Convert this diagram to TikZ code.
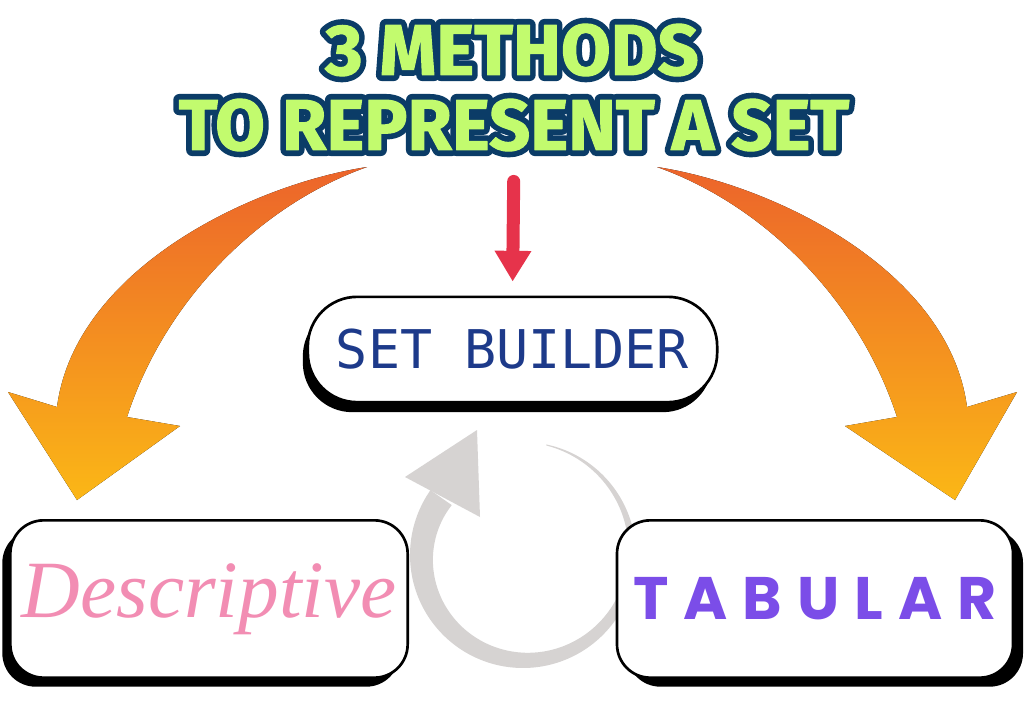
\documentclass[tikz,border=0pt]{standalone}
\usepackage{fontspec}
\usetikzlibrary{arrows.meta,shadows}

\newfontfamily\titlefont{Fira Sans}[FakeBold=1.5]
\newfontfamily\rimfont{Fira Sans}[FakeBold=17]
\newfontfamily\pixfont{DejaVu Sans Mono}
\newfontfamily\descfont{Liberation Serif}
\newfontfamily\tabfont{Poppins}[LetterSpace=25]

\definecolor{titlegreen}{HTML}{C2FB6E}
\definecolor{titlenavy}{HTML}{0B3C67}
\definecolor{arrowred}{HTML}{E6334B}
\definecolor{sbnavy}{HTML}{1D3A8A}
\definecolor{descpink}{HTML}{F28DB3}
\definecolor{tabpurple}{HTML}{7B4DE8}
\definecolor{loopgray}{HTML}{D6D3D2}
\definecolor{arroworange}{HTML}{EC642B}
\definecolor{arrowyellow}{HTML}{FBB716}

% green letters on a thick navy rim
\newcommand\rimtext[1]{%
    \rlap{\special{pdf:literal direct 1 j 1 J}\rimfont\bfseries\color{titlenavy}#1}%
    {\color{titlegreen}#1}}

\tikzset{
    titletext/.style={inner sep=0pt, font=\titlefont\bfseries\fontsize{54}{60}\selectfont},
    methodbox/.style={draw=black, line width=2pt, fill=white, inner sep=0pt},
    bigarrow/.style={top color=arroworange, bottom color=arrowyellow, draw=none},
    redarrow/.style={arrowred, line width=9.75pt, line cap=round, -{Triangle[width=26pt, length=23pt]}},
}

\begin{document}
\begin{tikzpicture}[x=0.75pt, y=-0.75pt]
    \useasboundingbox[fill=white] (0,0) rectangle (1024,711);

    % orange arrows to the two side boxes
    \fill[bigarrow] (367,167) .. controls (250,185) and (75,270) .. (57,407)
        -- (8,392) -- (77,500) -- (180,426) -- (127,417)
        .. controls (165,300) and (260,205) .. (367,167) -- cycle;
    \fill[bigarrow] (657,167) .. controls (774,185) and (949,270) .. (967,407)
        -- (1017,392) -- (955,500) -- (845,426) -- (897,417)
        .. controls (859,300) and (764,205) .. (657,167) -- cycle;

    % gray loop arrow
    \fill[loopgray] plot[domain=78:-215, samples=80, smooth] ({523+113*cos(\x)}, {555-113*sin(\x)})
        -- plot[domain=-215:78, samples=80, smooth] ({523+(112-25*(78-\x)/293)*cos(\x)}, {555-(112-25*(78-\x)/293)*sin(\x)}) -- cycle;
    \fill[loopgray] (405,477) -- (477,430) -- (480,517) -- cycle;

    % title
    \node[titletext] (title1) at (512,50) {\rimtext{3 METHODS}};
    \node[titletext] (title2) at (514,125) {\rimtext{TO REPRESENT A SET}};

    % boxes
    \node[methodbox, rounded corners=37pt, minimum width=307pt, minimum height=79pt,
        drop shadow={shadow xshift=-3.75pt, shadow yshift=-7.5pt, fill=black, opacity=1}]
        (setbuilder) at (512.5,349.5) {\pixfont\fontsize{40}{44}\selectfont\color{sbnavy}SET BUILDER};
    \node[methodbox, rounded corners=25pt, minimum width=298pt, minimum height=118pt,
        drop shadow={shadow xshift=-6pt, shadow yshift=-6.75pt, fill=black, opacity=1}]
        (descriptive) at (209,599) {\descfont\itshape\fontsize{61}{66}\selectfont\color{descpink}Descriptive};
    \node[methodbox, rounded corners=25pt, minimum width=297pt, minimum height=118pt,
        drop shadow={shadow xshift=7.5pt, shadow yshift=-6.75pt, fill=black, opacity=1},
        font=\tabfont\bfseries\fontsize{45}{50}\selectfont, text=tabpurple]
        (tabular) at (815,599) {TABULAR};

    % red arrow into set builder
    \draw[redarrow, shorten <=22.5pt, shorten >=10.5pt] (title2.south) -- (setbuilder.north);
\end{tikzpicture}
\end{document}
